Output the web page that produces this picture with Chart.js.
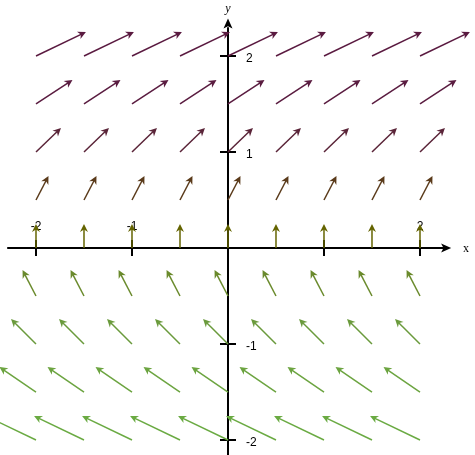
<!DOCTYPE html>
<html>
<head>
<meta charset="utf-8">
<script src="https://cdn.jsdelivr.net/npm/chart.js@4.4.0/dist/chart.umd.min.js"></script>
<style>
  html, body { margin: 0; padding: 0; background: #fff; }
  #wrap { width: 475px; height: 455px; }
</style>
</head>
<body>
<div id="wrap"><canvas id="campo"></canvas></div>
<script>
// columnas y filas de la malla (origen de cada flecha)
const columnas = [-2, -1.5, -1, -0.5, 0, 0.5, 1, 1.5, 2];
const filas = [2, 1.5, 1, 0.5, 0, -0.5, -1, -1.5, -2];
// componentes de cada flecha por fila
const filasDx = [0.52, 0.38, 0.26, 0.13, 0, -0.14, -0.26, -0.38, -0.52];
const filasDy = [0.25, 0.25, 0.25, 0.25, 0.25, 0.27, 0.26, 0.26, 0.25];
const filasColor = ['#5a1a40', '#5a1c40', '#5a2438', '#5a3a1a', '#646400',
                    '#6a8a2c', '#6a9a3c', '#6ca440', '#6aaa42'];
// marcas de los ejes y sus etiquetas (el "1" del eje x queda tapado por la flecha)
const ticksX = [-2, -1, 1, 2];
const etiquetasX = [-2, -1, 2];
const ticksY = [2, 1, -1, -2];

function punta(ctx, x0, y0, x1, y1, color) {
  const ang = Math.atan2(y1 - y0, x1 - x0);
  const largo = 8, ancho = 4;
  ctx.strokeStyle = color;
  ctx.fillStyle = color;
  ctx.lineWidth = 1.5;
  ctx.beginPath();
  ctx.moveTo(x0, y0);
  ctx.lineTo(x1 - Math.cos(ang) * largo * 0.6, y1 - Math.sin(ang) * largo * 0.6);
  ctx.stroke();
  ctx.beginPath();
  ctx.moveTo(x1, y1);
  ctx.lineTo(x1 - Math.cos(ang) * largo + Math.sin(ang) * ancho, y1 - Math.sin(ang) * largo - Math.cos(ang) * ancho);
  ctx.lineTo(x1 - Math.cos(ang) * largo * 0.7, y1 - Math.sin(ang) * largo * 0.7);
  ctx.lineTo(x1 - Math.cos(ang) * largo - Math.sin(ang) * ancho, y1 - Math.sin(ang) * largo + Math.cos(ang) * ancho);
  ctx.closePath();
  ctx.fill();
}

const campoPlugin = {
  id: 'campo',
  afterDatasetsDraw(chart) {
    const ctx = chart.ctx;
    const sx = chart.scales.x, sy = chart.scales.y;
    const px = v => sx.getPixelForValue(v);
    const py = v => sy.getPixelForValue(v);
    const ox = px(0), oy = py(0);
    ctx.save();

    // ejes
    ctx.strokeStyle = '#000';
    ctx.fillStyle = '#000';
    ctx.lineWidth = 2;
    ctx.beginPath();
    ctx.moveTo(px(-2.3), oy); ctx.lineTo(px(2.28), oy);
    ctx.moveTo(ox, py(-2.25)); ctx.lineTo(ox, py(2.3));
    ctx.stroke();
    ctx.beginPath();
    ctx.moveTo(px(2.325), oy); ctx.lineTo(px(2.22), oy - 4.5); ctx.lineTo(px(2.245), oy); ctx.lineTo(px(2.22), oy + 4.5);
    ctx.closePath(); ctx.fill();
    ctx.beginPath();
    ctx.moveTo(ox, py(2.39)); ctx.lineTo(ox - 4.5, py(2.285)); ctx.lineTo(ox, py(2.31)); ctx.lineTo(ox + 4.5, py(2.285));
    ctx.closePath(); ctx.fill();

    ctx.lineWidth = 2;
    ctx.beginPath();
    ticksX.forEach(t => { ctx.moveTo(px(t), oy - 8); ctx.lineTo(px(t), oy + 8); });
    ticksY.forEach(t => { ctx.moveTo(ox - 8, py(t)); ctx.lineTo(ox + 8, py(t)); });
    ctx.stroke();

    ctx.font = '12px "Liberation Sans", Arial, sans-serif';
    ctx.textAlign = 'center';
    ctx.textBaseline = 'middle';
    etiquetasX.forEach(t => ctx.fillText(String(t), px(t), oy - 21));
    ctx.textAlign = 'left';
    ticksY.forEach(t => ctx.fillText(String(t), ox + 18, py(t) + 3));

    ctx.font = 'italic 12px "Liberation Serif", "Times New Roman", serif';
    ctx.textAlign = 'center';
    ctx.fillText('y', ox, 9);
    ctx.font = '12px "Liberation Serif", "Times New Roman", serif';
    ctx.fillText('x', px(2.48), oy + 1);

    // flechas del campo
    filas.forEach((y, i) => {
      columnas.forEach(x => {
        punta(ctx, px(x), py(y), px(x + filasDx[i]), py(y + filasDy[i]), filasColor[i]);
      });
    });
    ctx.restore();
  }
};

new Chart(document.getElementById('campo'), {
  type: 'scatter',
  data: { datasets: [{ data: [], pointRadius: 0 }] },
  options: {
    responsive: true,
    maintainAspectRatio: false,
    animation: false,
    layout: { padding: 0 },
    plugins: { legend: { display: false }, tooltip: { enabled: false } },
    scales: {
      x: { type: 'linear', display: false, min: -2.375, max: 2.573 },
      y: { type: 'linear', display: false, min: -2.156, max: 2.583 }
    }
  },
  plugins: [campoPlugin]
});
</script>
</body>
</html>
